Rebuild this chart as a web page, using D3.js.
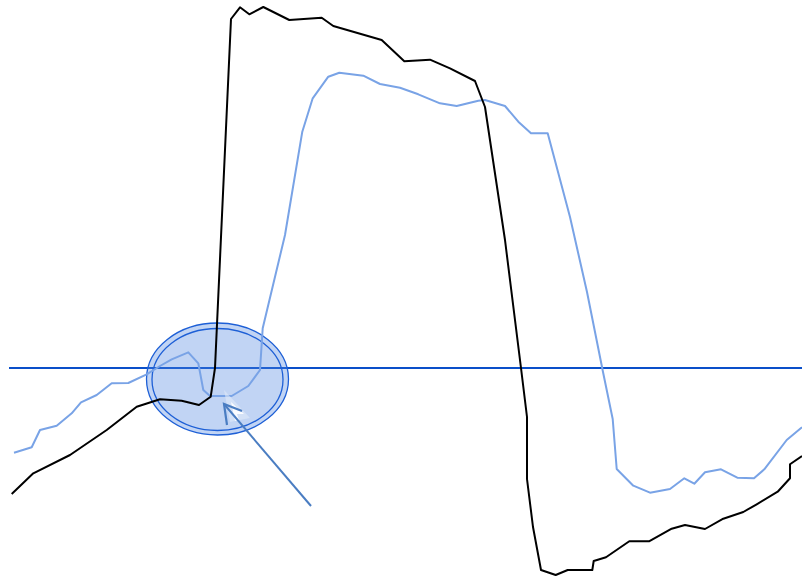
<!DOCTYPE html>
<html>
<head>
<meta charset="utf-8">
<script src="https://cdn.jsdelivr.net/npm/d3@7"></script>
<style>
  html, body { margin: 0; padding: 0; background: #ffffff; }
  svg { display: block; }
</style>
</head>
<body>
<svg id="chart" width="802" height="579"></svg>
<script>
// x positions (time units) and values (relative to the reference level)
const blackX = [11.7,33.3,70,106.7,136.7,160,181.7,199,210.7,215,231,240,249.3,263.3,289.3,321.7,333.3,381.7,404.3,430,450,475,485,505,521,527,527,533,541,555.7,567.7,592.3,593.7,606,629.3,649,671.7,685,705,723.3,743.3,756.7,777.7,790,790,802];
const blackV = [-126,-105.3,-87,-62,-38.7,-31.3,-32.7,-37,-28.7,0,349,360.7,353.7,361,348,350.3,342,328,306.7,308.3,299.7,287,261,128,0,-49,-111,-159,-202,-207,-202,-202,-193,-189.3,-173.3,-173.3,-160.7,-157,-161,-150.7,-144,-136.3,-123.7,-110.3,-96.3,-88];

const blueX = [14,31.7,40,56.7,71.7,81,96.7,111.7,128.3,146.7,160,171.7,188.3,198.3,203.3,210,231.7,248.3,260,262.7,285,302.3,312.7,328.3,339.3,363.3,380,400,418.3,440,456.7,478.3,485,505,518.3,531,547.7,570,587,603,612.7,616.7,633.3,650,670,684.3,694.3,705,721,737.3,754,764.3,786.7,802];
const blueV = [-84.7,-79.3,-62,-57.7,-45.3,-34.3,-27,-15.3,-15,-6.3,2,8.7,15.7,4.7,-22,-28,-28,-18,-2,39.7,133,236.3,269.7,291.3,295.3,292.3,284,280.3,273.7,264.7,262,267.3,268,262,246.3,234.7,234.7,151,76,-4,-51,-101,-117.7,-124.7,-121,-110.3,-115.7,-104.3,-101.3,-109.7,-110.3,-101.3,-72,-59.3];

const refLevel = 0;          // horizontal reference line value
const highlight = { x: 217.5, v: -11 };   // highlighted region centre
const arrowFrom = { x: 311, v: -138 };
const arrowTo   = { x: 224, v: -36 };

const W = 802, H = 579;
const x = d3.scaleLinear().domain([0, 802]).range([0, W]);
const y = d3.scaleLinear().domain([-211, 368]).range([H, 0]);

const svg = d3.select("#chart");

const line = d3.line().x(d => x(d[0])).y(d => y(d[1]));

// reference line
svg.append("line")
  .attr("x1", x(9)).attr("x2", x(802))
  .attr("y1", y(refLevel)).attr("y2", y(refLevel))
  .attr("stroke", "#0a4fc9").attr("stroke-width", 2);

// highlight ellipse (filled, double outline)
const cx = x(highlight.x), cy = y(highlight.v);
svg.append("ellipse")
  .attr("cx", cx).attr("cy", cy).attr("rx", 71).attr("ry", 56)
  .attr("fill", "#4d84e0").attr("fill-opacity", 0.35)
  .attr("stroke", "#1d5fd6").attr("stroke-width", 1.3);
svg.append("ellipse")
  .attr("cx", cx).attr("cy", cy + 0.5).attr("rx", 65.5).attr("ry", 51)
  .attr("fill", "none")
  .attr("stroke", "#1d5fd6").attr("stroke-width", 1.3);

// series lines
svg.append("path")
  .datum(blueX.map((d, i) => [d, blueV[i]]))
  .attr("d", line)
  .attr("fill", "none").attr("stroke", "#79a3e6").attr("stroke-width", 2)
  .attr("stroke-linejoin", "round");

svg.append("path")
  .datum(blackX.map((d, i) => [d, blackV[i]]))
  .attr("d", line)
  .attr("fill", "none").attr("stroke", "#000000").attr("stroke-width", 2)
  .attr("stroke-linejoin", "round");

// pointer cursor overlay (faint)
const tx = x(arrowTo.x), ty = y(arrowTo.v);
svg.append("path")
  .attr("d", `M${tx},${ty-14} L${tx+26},${ty+14} L${tx+6},${ty+18} Z`)
  .attr("fill", "#dfe9f8").attr("fill-opacity", 0.6);
svg.append("path")
  .attr("d", `M${tx+7},${ty-2} L${tx+20},${ty+10} L${tx+13},${ty+10} L${tx+15},${ty+16} L${tx+11},${ty+17} Z`)
  .attr("fill", "#ffffff").attr("fill-opacity", 0.9);

// annotation arrow
const ax1 = x(arrowFrom.x), ay1 = y(arrowFrom.v);
svg.append("line")
  .attr("x1", ax1).attr("y1", ay1).attr("x2", tx).attr("y2", ty)
  .attr("stroke", "#4a7dc2").attr("stroke-width", 2);
svg.append("path")
  .attr("d", `M${tx+3},${ty+21} L${tx},${ty} L${tx+18},${ty+7}`)
  .attr("fill", "none").attr("stroke", "#4a7dc2").attr("stroke-width", 2.2)
  .attr("stroke-linejoin", "miter");
</script>
</body>
</html>
